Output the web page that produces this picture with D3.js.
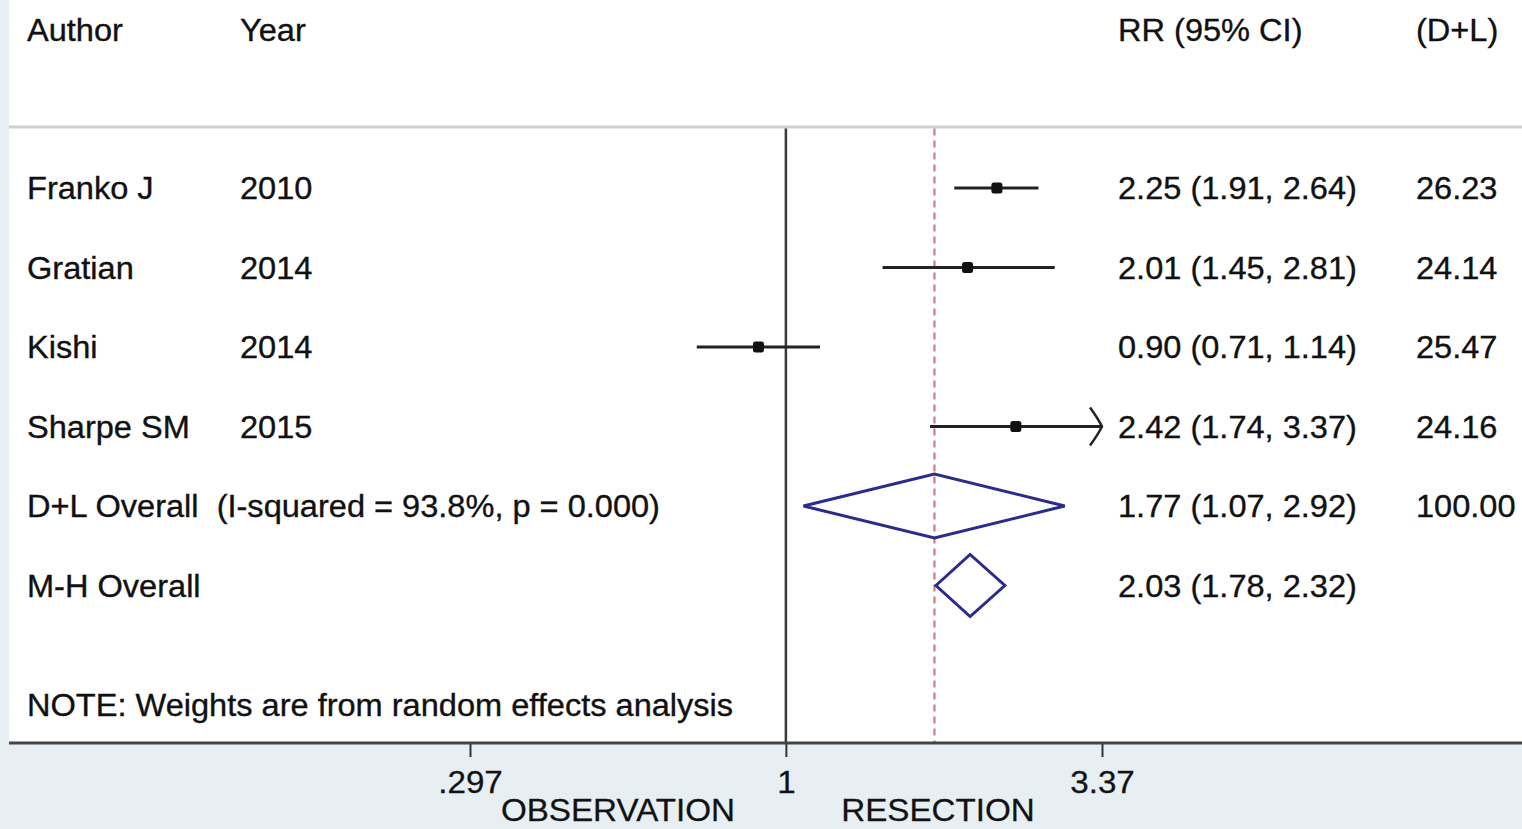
<!DOCTYPE html>
<html><head><meta charset="utf-8">
<script src="https://cdn.jsdelivr.net/npm/d3@7"></script>
<style>
html,body{margin:0;padding:0;background:#e7eff3;overflow:hidden;}
text{font-family:"Liberation Sans",Arial,Helvetica,sans-serif;fill:#111;}
</style></head>
<body>
<svg id="chart" width="1522" height="829"></svg>
<script>
// ---- data ----
const authors = ["Franko J", "Gratian", "Kishi", "Sharpe SM"];
const years = ["2010", "2014", "2014", "2015"];
const rr = [2.25, 2.01, 0.90, 2.42];
const lo = [1.91, 1.45, 0.71, 1.74];
const hi = [2.64, 2.81, 1.14, 3.37];
const weights = ["26.23", "24.14", "25.47", "24.16"];
const overallLabels = ["D+L Overall  (I-squared = 93.8%, p = 0.000)", "M-H Overall"];
const overallRR = [1.77, 2.03];
const overallLo = [1.07, 1.78];
const overallHi = [2.92, 2.32];
const overallW = ["100.00", ""];
const headers = ["Author", "Year", "RR (95% CI)", "(D+L)"];
const tickValues = [0.297, 1, 3.37];
const tickLabels = [".297", "1", "3.37"];
const axisTitles = ["OBSERVATION", "RESECTION"];
const noteText = "NOTE: Weights are from random effects analysis";
const xDomain = [0.297, 3.37];

// ---- layout ----
const svg = d3.select("#chart");
const W = 1522, H = 829;
const plotLeft = 9, plotTop = 0, axisY = 743, headerLineY = 127;
const x = d3.scaleLog().domain(xDomain).range([470, 1102]);
const rowY = d3.scaleLinear().domain([0, 1]).range([188, 267.5]);
const colX = {author: 27, year: 240, rr: 1118, w: 1416};
const fmt = v => v.toFixed(2);
const FS = 31;

function body(sel) {
  return sel.attr("font-size", FS).attr("stroke", "#111").attr("stroke-width", 0.35).classed("stretch", true);
}

// white plot region
svg.append("rect").attr("x", plotLeft).attr("y", plotTop)
  .attr("width", W - plotLeft).attr("height", axisY - plotTop).attr("fill", "#ffffff");

// header
const hx = [colX.author, colX.year, colX.rr, colX.w];
body(svg.selectAll("text.hdr").data(headers).enter().append("text")
  .attr("class", "hdr").attr("x", (d, i) => hx[i]).attr("y", 41)).text(d => d);
svg.append("line").attr("x1", plotLeft).attr("x2", W).attr("y1", headerLineY).attr("y2", headerLineY)
  .attr("stroke", "#cfcfcf").attr("stroke-width", 3);

// reference lines
const yTopLine = headerLineY + 1.5;
svg.append("line").attr("x1", x(1)).attr("x2", x(1)).attr("y1", yTopLine).attr("y2", axisY)
  .attr("stroke", "#3a3a3a").attr("stroke-width", 2.5);
svg.append("line").attr("x1", x(overallRR[0])).attr("x2", x(overallRR[0])).attr("y1", yTopLine).attr("y2", axisY)
  .attr("stroke", "#d07a85").attr("stroke-width", 2.2).attr("stroke-dasharray", "7,5");

// study rows
authors.forEach((a, i) => {
  const y = rowY(i);
  const x2 = x(Math.min(hi[i], xDomain[1]));
  svg.append("line").attr("x1", x(Math.max(lo[i], xDomain[0]))).attr("x2", x2)
    .attr("y1", y).attr("y2", y).attr("stroke", "#222").attr("stroke-width", 3);
  if (hi[i] >= xDomain[1]) {
    svg.append("path").attr("d", `M${x2 - 12},${y - 19} Q${x2 - 4},${y - 8} ${x2},${y} Q${x2 - 4},${y + 8} ${x2 - 12},${y + 19}`)
      .attr("fill", "none").attr("stroke", "#222").attr("stroke-width", 2.5);
  }
  svg.append("rect").attr("x", x(rr[i]) - 5.5).attr("y", y - 5.5).attr("width", 11).attr("height", 11)
    .attr("fill", "#111").attr("rx", 2.5);
  body(svg.append("text").attr("x", colX.author).attr("y", y).attr("dy", "0.36em")).text(a);
  body(svg.append("text").attr("x", colX.year).attr("y", y).attr("dy", "0.36em")).text(years[i]);
  body(svg.append("text").attr("x", colX.rr).attr("y", y).attr("dy", "0.36em"))
    .text(`${fmt(rr[i])} (${fmt(lo[i])}, ${fmt(hi[i])})`);
  body(svg.append("text").attr("x", colX.w).attr("y", y).attr("dy", "0.36em")).text(weights[i]);
});

// overall rows
const halfH = [32, 31];
overallLabels.forEach((lab, k) => {
  const i = authors.length + k;
  const y = rowY(i);
  const xl = x(overallLo[k]), xc = x(overallRR[k]), xr = x(overallHi[k]);
  svg.append("path").attr("d", `M${xl},${y} L${xc},${y - halfH[k]} L${xr},${y} L${xc},${y + halfH[k]} Z`)
    .attr("fill", "none").attr("stroke", "#2b2b8c").attr("stroke-width", 3).attr("stroke-linejoin", "miter");
  body(svg.append("text").attr("x", colX.author).attr("y", y).attr("dy", "0.36em")
    .attr("xml:space", "preserve").style("white-space", "pre")).text(lab);
  body(svg.append("text").attr("x", colX.rr).attr("y", y).attr("dy", "0.36em"))
    .text(`${fmt(overallRR[k])} (${fmt(overallLo[k])}, ${fmt(overallHi[k])})`);
  if (overallW[k]) body(svg.append("text").attr("x", colX.w).attr("y", y).attr("dy", "0.36em")).text(overallW[k]);
});

// note
body(svg.append("text").attr("x", colX.author).attr("y", 705).attr("dy", "0.36em")).text(noteText);

// axis
const axis = d3.axisBottom(x).tickValues(tickValues)
  .tickFormat((d, i) => tickLabels[i]).tickSize(14).tickSizeOuter(0);
const gAxis = svg.append("g").attr("transform", `translate(0,${axisY})`).call(axis);
gAxis.select(".domain").remove();
gAxis.selectAll(".tick line").attr("stroke", "#333").attr("stroke-width", 2);
gAxis.selectAll(".tick text").attr("font-size", FS).attr("dy", "0").attr("y", 50)
  .style("font-family", "'Liberation Sans', Arial, sans-serif").attr("fill", "#222")
  .attr("stroke", "#222").attr("stroke-width", 0.3).classed("stretch2", true);
svg.append("line").attr("x1", plotLeft).attr("x2", W).attr("y1", axisY).attr("y2", axisY)
  .attr("stroke", "#444").attr("stroke-width", 3);

// axis titles
const titleX = [618, 938];
svg.selectAll("text.ttl").data(axisTitles).enter().append("text")
  .attr("class", "ttl stretch2").attr("x", (d, i) => titleX[i]).attr("y", 821)
  .attr("text-anchor", "middle").attr("font-size", FS).attr("fill", "#222")
  .attr("stroke", "#222").attr("stroke-width", 0.3).text(d => d);

// slight horizontal widening to match the reference's wider glyphs
function stretch(sel, k) {
  sel.each(function () {
    const l = this.getComputedTextLength();
    d3.select(this).attr("textLength", l * k).attr("lengthAdjust", "spacingAndGlyphs");
  });
}
stretch(svg.selectAll("text.stretch"), 1.05);
stretch(svg.selectAll("text.stretch2"), 1.07);
</script>
</body></html>
